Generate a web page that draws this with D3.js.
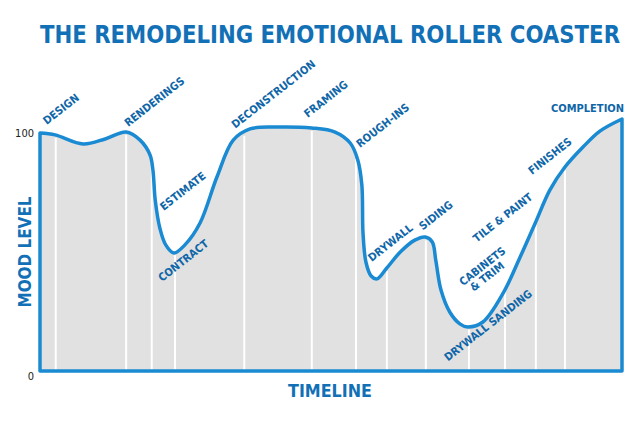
<!DOCTYPE html>
<html>
<head>
<meta charset="utf-8">
<script src="https://cdn.jsdelivr.net/npm/d3@7"></script>
<style>
  body { margin: 0; background: #fff; }
  text { font-family: "DejaVu Sans Condensed", "DejaVu Sans", sans-serif; }
</style>
</head>
<body>
<div id="chart"></div>
<script>
// stages along the timeline (0-100) where the white divider lines sit
var stages = ["DESIGN", "RENDERINGS", "ESTIMATE", "CONTRACT", "DECONSTRUCTION", "FRAMING",
  "ROUGH-INS", "DRYWALL", "SIDING", "DRYWALL SANDING", "CABINETS & TRIM", "TILE & PAINT",
  "FINISHES", "COMPLETION"];
var stageTimes = [2.7, 14.8, 19.2, 23.2, 35.1, 46.7, 54.3, 59.6, 66.3, 73.7, 79.9, 85.2, 90.2, 100];

// mood curve
var curveTimes = [0, 2.6, 7.4, 11.2, 14.8, 17.2, 18.9, 19.4, 19.8, 20.6, 21.6, 23.0, 24.9, 27.5,
  30.4, 33.2, 36.1, 40.4, 46.7, 50.7, 53.3, 54.6, 55.3, 55.5, 56.0, 56.9, 57.9, 59.6, 61.9,
  64.4, 66.2, 67.4, 68.0, 68.9, 70.4, 72.2, 73.5, 76.1, 79.6, 82.5, 85.1, 87.6, 90.2, 93.3,
  96.2, 100];
var curveMood = [100, 99.2, 95.4, 97.5, 100.4, 97, 90.8, 84.5, 71.8, 60, 53, 49.6, 53, 62.2,
  81.5, 97, 101.7, 102.5, 102.1, 100.4, 95.8, 88.7, 78.2, 58, 45.8, 39.9, 38.7, 43.3, 50,
  55, 56.3, 54.2, 46.6, 34, 24.8, 19.7, 18.5, 20.6, 32.8, 47.9, 62.2, 76, 85.7, 94.1,
  100.8, 105.9];

var moodTicks = [0, 100];

var width = 640, height = 428;
var margin = { left: 40, right: 18, top: 133, bottom: 57 };
var blue = "#1a8ad2", darkBlue = "#0f66a8", gray = "#e1e1e1";

var svg = d3.select("#chart").append("svg")
  .attr("width", width)
  .attr("height", height);

var x = d3.scaleLinear().domain([0, 100]).range([margin.left, width - margin.right]);
var y = d3.scaleLinear().domain([0, 100]).range([height - margin.bottom, margin.top]);

var points = curveTimes.map(function(t, i) {
  return { t: t, mood: curveMood[i] };
});

function moodAt(t) {
  var i = d3.bisector(function(d) { return d.t; }).left(points, t);
  if (i <= 0) return points[0].mood;
  if (i >= points.length) return points[points.length - 1].mood;
  var a = points[i - 1], b = points[i];
  return a.mood + (b.mood - a.mood) * (t - a.t) / (b.t - a.t);
}

var area = d3.area()
  .x(function(d) { return x(d.t); })
  .y0(y(0))
  .y1(function(d) { return y(d.mood); })
  .curve(d3.curveCatmullRom.alpha(0.5));

svg.append("path")
  .datum(points)
  .attr("d", area)
  .attr("fill", gray);

// white dividers
svg.selectAll(".divider")
  .data(stageTimes.slice(0, -1))
  .enter()
  .append("line")
  .attr("class", "divider")
  .attr("x1", function(d) { return x(d); })
  .attr("x2", function(d) { return x(d); })
  .attr("y1", y(0))
  .attr("y2", function(d) { return y(moodAt(d)) + 3; })
  .attr("stroke", "#fff")
  .attr("stroke-width", 2);

svg.append("path")
  .datum(points)
  .attr("d", area)
  .attr("fill", "none")
  .attr("stroke", blue)
  .attr("stroke-width", 3.5)
  .attr("stroke-linejoin", "round");

// label placement relative to each stage's line on the curve
var labelOffsets = {
  "DESIGN": [-9, -10],
  "RENDERINGS": [2, -5],
  "ESTIMATE": [12, 47],
  "CONTRACT": [-13, 30],
  "DECONSTRUCTION": [-9, -4],
  "FRAMING": [-4, -10],
  "ROUGH-INS": [4, -8],
  "DRYWALL": [-15, -6],
  "SIDING": [-3, -7],
  "DRYWALL SANDING": [-21, 35],
  "CABINETS & TRIM": [-42, -3],
  "TILE & PAINT": [-59, 21],
  "FINISHES": [-33, 8],
  "COMPLETION": [2, -7]
};

var labels = svg.selectAll(".stage")
  .data(stages)
  .enter()
  .append("text")
  .attr("class", "stage")
  .attr("fill", darkBlue)
  .attr("font-size", 11)
  .attr("font-weight", "bold")
  .attr("transform", function(d, i) {
    var px = x(stageTimes[i]) + labelOffsets[d][0];
    var py = y(moodAt(stageTimes[i])) + labelOffsets[d][1];
    var rot = d == "COMPLETION" ? 0 : -38;
    return "translate(" + px + "," + py + ") rotate(" + rot + ")";
  })
  .attr("text-anchor", function(d) {
    return d == "COMPLETION" ? "end" : "start";
  });

labels.each(function(d) {
  var el = d3.select(this);
  if (d == "CABINETS & TRIM") {
    el.append("tspan").attr("x", 0).text("CABINETS");
    el.append("tspan").attr("x", 5).attr("dy", 11).text("& TRIM");
  } else {
    el.text(d);
  }
});

// axis with 0 and 100 only
var yAxis = svg.append("g")
  .attr("transform", "translate(" + (margin.left - 1) + ",0)")
  .call(d3.axisLeft(y).tickValues(moodTicks).tickSize(0).tickPadding(5));
yAxis.select(".domain").remove();
yAxis.selectAll("text")
  .attr("font-family", "Liberation Sans, Arial, sans-serif")
  .attr("font-size", 11)
  .attr("fill", "#222")
  .attr("dy", function(d) { return d == 0 ? "0.8em" : "0.32em"; });

svg.append("text")
  .attr("x", 330)
  .attr("y", 43)
  .attr("text-anchor", "middle")
  .attr("textLength", 580)
  .attr("lengthAdjust", "spacingAndGlyphs")
  .attr("font-size", 24)
  .attr("font-weight", "bold")
  .attr("fill", "#1270b6")
  .text("THE REMODELING EMOTIONAL ROLLER COASTER");

svg.append("text")
  .attr("transform", "translate(31,252) rotate(-90)")
  .attr("text-anchor", "middle")
  .attr("textLength", 111)
  .attr("lengthAdjust", "spacingAndGlyphs")
  .attr("font-size", 18)
  .attr("font-weight", "bold")
  .attr("fill", "#1270b6")
  .text("MOOD LEVEL");

svg.append("text")
  .attr("x", 330)
  .attr("y", 397)
  .attr("text-anchor", "middle")
  .attr("textLength", 84)
  .attr("lengthAdjust", "spacingAndGlyphs")
  .attr("font-size", 18)
  .attr("font-weight", "bold")
  .attr("fill", "#1270b6")
  .text("TIMELINE");
</script>
</body>
</html>
